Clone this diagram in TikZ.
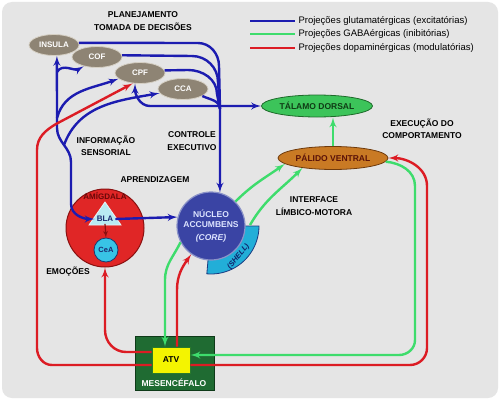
\documentclass[tikz,border=0pt]{standalone}
\usepackage{fontspec}
\setmainfont{Liberation Sans}
\usetikzlibrary{arrows, positioning, shapes.geometric}

\definecolor{bggray}{HTML}{E5E5E5}
\definecolor{cortexfill}{HTML}{8E8474}
\definecolor{cortexline}{HTML}{D6D0C4}
\definecolor{glublue}{HTML}{1C1CB0}
\definecolor{gabagreen}{HTML}{3EDC6C}
\definecolor{dopared}{HTML}{DC1C24}
\definecolor{talfill}{HTML}{3CC45A}
\definecolor{taldraw}{HTML}{1E6A2A}
\definecolor{taltext}{HTML}{0F3A14}
\definecolor{palfill}{HTML}{C97A24}
\definecolor{paldraw}{HTML}{6E3A0C}
\definecolor{paltext}{HTML}{5A1208}
\definecolor{amyfill}{HTML}{E02626}
\definecolor{amydraw}{HTML}{8A1010}
\definecolor{amytext}{HTML}{6A0808}
\definecolor{blafill}{HTML}{B8EAF2}
\definecolor{bladraw}{HTML}{E8F4F8}
\definecolor{blatext}{HTML}{1A2A70}
\definecolor{ceafill}{HTML}{38C4E6}
\definecolor{ceadraw}{HTML}{1A3A70}
\definecolor{nacfill}{HTML}{3A44A4}
\definecolor{nacdraw}{HTML}{8A92C8}
\definecolor{nactext}{HTML}{DDE4FF}
\definecolor{shellfill}{HTML}{22AED8}
\definecolor{shelldraw}{HTML}{1A3A80}
\definecolor{shelltext}{HTML}{10206A}
\definecolor{mesfill}{HTML}{1F6B32}
\definecolor{mesdraw}{HTML}{0E3A18}
\definecolor{atvfill}{HTML}{F4F400}
\definecolor{atvdraw}{HTML}{2A7A2A}

\begin{document}
\begin{tikzpicture}[x=1pt,y=1pt]

\tikzset{area/.style = {ellipse, draw=cortexline, fill=cortexfill, line width=0.8pt, minimum width=50pt, minimum height=21pt, inner sep=0pt, text=white, font=\fontsize{8}{9}\selectfont\bfseries}}
\tikzset{txt/.style = {align=center, font=\fontsize{8.5}{12.5}\selectfont\bfseries}}
\tikzset{key/.style = {anchor=west, font=\fontsize{9.5}{10}\selectfont}}
\tikzset{glu/.style = {draw=glublue, line width=2.4pt, > = latex'}}
\tikzset{gaba/.style = {draw=gabagreen, line width=2.4pt, > = latex'}}
\tikzset{dopa/.style = {draw=dopared, line width=2.4pt, > = latex'}}

% background
\useasboundingbox (0,0) rectangle (500,400);
\fill[white] (0,0) rectangle (500,400);
\fill[bggray, rounded corners=10pt] (2,2) rectangle (498,398);

% legend
\node[key] (kglu) at (295,379) {Projeções glutamatérgicas (excitatórias)};
\node[key] (kgaba) at (295,366) {Projeções GABAérgicas (inibitórias)};
\node[key] (kdopa) at (295,352) {Projeções dopaminérgicas (modulatórias)};
\coordinate (kglu0) at (250,379);
\coordinate (kgaba0) at (250,366);
\coordinate (kdopa0) at (250,352);
\draw [glu] (kglu0) -- (kglu.west);
\draw [gaba] (kgaba0) -- (kgaba.west);
\draw [dopa] (kdopa0) -- (kdopa.west);

% cortex
\node[area] (insula) at (54,355) {INSULA};
\node[area] (cof) at (97,343) {COF};
\node[area] (cpf) at (140,327) {CPF};
\node[area] (cca) at (183,311) {CCA};

% thalamus, pallidum
\node[ellipse, fill=talfill, draw=taldraw, line width=0.8pt, minimum width=111pt, minimum height=22pt, inner sep=0pt, text=taltext, font=\fontsize{8.5}{9}\selectfont\bfseries] (tal) at (317,294) {TÁLAMO DORSAL};
\node[ellipse, fill=palfill, draw=paldraw, line width=0.8pt, minimum width=110pt, minimum height=23pt, inner sep=0pt, text=paltext, font=\fontsize{8.5}{9}\selectfont\bfseries] (pal) at (333,242) {PÁLIDO VENTRAL};

% amygdala
\node[circle, fill=amyfill, draw=amydraw, line width=1pt, minimum size=78pt] (amy) at (105,172) {};
\node[text=amytext, font=\fontsize{8}{9}\selectfont\bfseries] (amyname) at (105,204) {AMÍGDALA};
\draw[fill=blafill, draw=bladraw, line width=0.8pt] (105,198) -- (89,175) -- (121,175) -- cycle;
\node[text=blatext, font=\fontsize{8}{9}\selectfont\bfseries, inner sep=2pt] (bla) at (105,181) {BLA};
\node[circle, fill=ceafill, draw=ceadraw, line width=0.8pt, minimum size=24pt, inner sep=0pt, text=blatext, font=\fontsize{7.5}{8}\selectfont\bfseries] (cea) at (106,150) {CeA};

% accumbens
\coordinate (nacc) at (211,174);
\draw[fill=shellfill, draw=shelldraw, line width=0.8pt] ([shift={(0:30)}]nacc) arc[start angle=0, end angle=-95, radius=30] -- ([shift={(-95:48)}]nacc) arc[start angle=-95, end angle=0, radius=48] -- cycle;
\node[rotate=50, text=shelltext, font=\fontsize{7.5}{8}\selectfont\bfseries\itshape, inner sep=0pt] (shell) at ([shift={(-48:41)}]nacc) {(SHELL)};
\node[circle, fill=nacfill, draw=nacdraw, line width=1.2pt, minimum size=68pt, inner sep=0pt] (nac) at (nacc) {};
\node[align=center, inner sep=0pt, text=nactext, font=\fontsize{8.5}{10}\selectfont\bfseries] (nacname) at (nacc) {NÚCLEO\\ACCUMBENS\\[3pt]\textit{(CORE)}};
\coordinate (shelltop) at (250,175);

% midbrain
\node[fill=mesfill, draw=mesdraw, line width=0.8pt, minimum width=79pt, minimum height=54pt] (mes) at (174.5,37) {};
\node[text=white, font=\fontsize{8.5}{9}\selectfont\bfseries] (mesname) at (174,17) {MESENCÉFALO};
\node[fill=atvfill, draw=atvdraw, line width=0.8pt, minimum width=38pt, minimum height=26pt, font=\fontsize{8.5}{9}\selectfont\bfseries] (atv) at (171,40) {ATV};

% captions
\node[txt] (plan) at (143,379) {PLANEJAMENTO\\TOMADA DE DECISÕES};
\node[txt] (sens) at (106,254) {INFORMAÇÃO\\SENSORIAL};
\node[txt] (exec) at (192,259) {CONTROLE\\EXECUTIVO};
\node[txt] (learn) at (155,220) {APRENDIZAGEM};
\node[txt] (emo) at (68,128) {EMOÇÕES};
\node[txt] (iface) at (314,194) {INTERFACE\\LÍMBICO-MOTORA};
\node[txt] (behav) at (422,271) {EXECUÇÃO DO\\COMPORTAMENTO};

%edges
\coordinate (junc) at (220,291);
\draw [glu] (insula.5) -- (198,357) to[out=0,in=90] (219,334) -- (junc);
\draw [glu] (cof.4) -- (192,344) to[out=0,in=90] (218,318) -- (junc);
\draw [glu] (cpf.6) -- (188,330) to[out=0,in=90] (217,306) -- (junc);
\draw [glu] (cca.-20) to[out=-25,in=90] (junc);
\draw [glu, ->] (junc) -- (nac.75);
\draw [glu, <->] (cpf.245) to[out=-90,in=180] (150,294) -- (tal.west);
\draw [glu, <->] (insula.285) -- (57,272) to[out=-90,in=90] (71,238) -- (71,196) to[out=-90,in=180] (bla.west);
\draw [glu, ->] (57,328) to[out=60,in=210] (cof.215);
\draw [glu, ->] (57,282) to[out=75,in=200] (cpf.195);
\draw [glu, ->] (64,255) to[out=70,in=190] (cca.190);
\draw [glu, ->] (bla.east) -- (nac.165);

\draw [dopa, ->] ([yshift=-5pt]atv.west) -- (52,35) to[out=180,in=-90] (37,52) -- (37,250) to[out=90,in=211] (56,276) -- (cpf.235);
\draw [dopa, ->] ([yshift=8pt]atv.west) -- (126,48) to[out=180,in=-90] (105,70) -- (amy.south);
\draw [dopa, ->] ([xshift=6pt]atv.north) -- (177,110) to[out=90,in=235] (nac.235);
\draw [dopa, ->] ([yshift=-5pt]atv.east) -- (410,35) to[out=0,in=-90] (427,52) -- (427,214) to[out=90,in=0] (pal.east);

\draw [gaba, ->] (nac.45) to[out=45,in=215] (pal.187);
\draw [gaba, ->] (shelltop) to[out=60,in=225] (pal.198);
\draw [gaba, ->] (nac.208) to[out=245,in=90] (165,120) -- ([xshift=-6pt]atv.north);
\draw [gaba, ->] (pal.-4) to[out=-5,in=90] (415,214) -- (415,60) to[out=-90,in=0] (399,45) -- ([yshift=5pt]atv.east);
\draw [gaba, ->] (pal.north) -- (pal.north |- tal.south);
\draw [->, draw=amydraw, line width=1.2pt, > = latex'] (bla.south) -- (cea.north);
\end{tikzpicture}
\end{document}
